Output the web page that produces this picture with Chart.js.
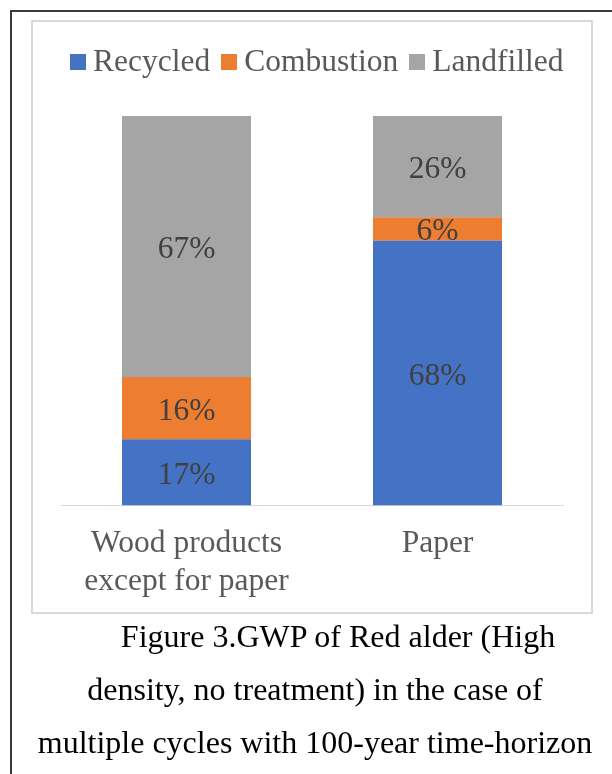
<!DOCTYPE html>
<html>
<head>
<meta charset="utf-8">
<script src="https://cdn.jsdelivr.net/npm/chart.js@4.4.1/dist/chart.umd.min.js"></script>
<style>
  html, body { margin: 0; padding: 0; background: #ffffff; }
  body { width: 612px; height: 774px; position: relative; overflow: hidden; }
  #frame {
    position: absolute; left: 10px; top: 10px; width: 800px; height: 900px;
    border: 2px solid #3a3a3a; box-sizing: border-box;
  }
  #plotbox {
    position: absolute; left: 31px; top: 20px; width: 562px; height: 594px;
    border: 2px solid #d9d9d9; box-sizing: border-box;
  }
  #wrap { position: absolute; left: 0; top: 0; width: 612px; height: 614px; }
  #caption {
    position: absolute; left: 0; top: 610px; width: 630px;
    font-family: "Liberation Serif", "Times New Roman", serif;
    font-size: 32px; line-height: 53px; color: #000000; text-align: center;
    white-space: nowrap;
  }
  #caption .first { padding-left: 46px; }
</style>
</head>
<body>
<div id="frame"></div>
<div id="plotbox"></div>
<div id="wrap"><canvas id="chart" width="612" height="614"></canvas></div>
<div id="caption">
  <div class="first">Figure 3.GWP of Red alder (High</div>
  <div>density, no treatment) in the case of</div>
  <div>multiple cycles with 100-year time-horizon</div>
</div>
<script>
// Share of GWP by end-of-life route, per product group
const categories = [["Wood products", "except for paper"], "Paper"];
const recycled   = [0.17, 0.68];
const combustion = [0.16, 0.06];
const landfilled = [0.67, 0.26];
const seriesNames  = ["Recycled", "Combustion", "Landfilled"];
const seriesColors = ["#4472C4", "#ED7D31", "#A5A5A5"];

const SERIF = '"Liberation Serif", "Times New Roman", serif';
const FONT_SIZE = 31.5;

// Percent labels centred inside each stacked segment
const segmentLabels = {
  id: 'segmentLabels',
  afterDatasetsDraw(chart) {
    const ctx = chart.ctx;
    ctx.save();
    ctx.font = FONT_SIZE + 'px ' + SERIF;
    ctx.fillStyle = '#404040';
    ctx.textAlign = 'center';
    ctx.textBaseline = 'alphabetic';
    chart.data.datasets.forEach((ds, i) => {
      const meta = chart.getDatasetMeta(i);
      meta.data.forEach((bar, j) => {
        const v = ds.data[j];
        const cy = (bar.y + bar.base) / 2;
        ctx.fillText(Math.round(v * 100) + '%', bar.x, cy + 11.5);
      });
    });
    ctx.restore();
  }
};

// Legend row above the plot: small square swatch followed by the series name
const topLegend = {
  id: 'topLegend',
  afterDraw(chart) {
    const ctx = chart.ctx;
    const box = 16, gapText = 7.5, gapItem = 10.5;
    const centerX = 316.5, centerY = 62;
    ctx.save();
    ctx.font = FONT_SIZE + 'px ' + SERIF;
    const items = chart.data.datasets.map(ds => ({
      label: ds.label, color: ds.backgroundColor, w: ctx.measureText(ds.label).width
    }));
    let total = 0;
    items.forEach((it, k) => { total += box + gapText + it.w + (k ? gapItem : 0); });
    let x = centerX - total / 2;
    ctx.textBaseline = 'alphabetic';
    ctx.textAlign = 'left';
    items.forEach((it) => {
      ctx.fillStyle = it.color;
      ctx.fillRect(Math.round(x), centerY - box / 2, box, box);
      ctx.fillStyle = '#595959';
      ctx.fillText(it.label, x + box + gapText, centerY + 9);
      x += box + gapText + it.w + gapItem;
    });
    ctx.restore();
  }
};

new Chart(document.getElementById('chart'), {
  type: 'bar',
  data: {
    labels: categories,
    datasets: [
      { label: seriesNames[0], data: recycled,   backgroundColor: seriesColors[0] },
      { label: seriesNames[1], data: combustion, backgroundColor: seriesColors[1] },
      { label: seriesNames[2], data: landfilled, backgroundColor: seriesColors[2] }
    ]
  },
  options: {
    responsive: false,
    animation: false,
    events: [],
    layout: { padding: { left: 61, right: 49, top: 116, bottom: 8.5 } },
    datasets: { bar: { categoryPercentage: 1, barPercentage: 0.514, borderWidth: 0 } },
    plugins: { legend: { display: false }, tooltip: { enabled: false } },
    scales: {
      x: {
        stacked: true,
        grid: { display: false, drawTicks: false },
        border: { display: true, color: '#d9d9d9', width: 1 },
        ticks: {
          color: '#595959', padding: 20, maxRotation: 0, autoSkip: false,
          font: { family: SERIF, size: FONT_SIZE, lineHeight: 1.18 }
        },
        afterFit(scale) { scale.height = 100; }
      },
      y: {
        stacked: true, display: false, min: 0, max: 1
      }
    }
  },
  plugins: [segmentLabels, topLegend]
});
</script>
</body>
</html>
